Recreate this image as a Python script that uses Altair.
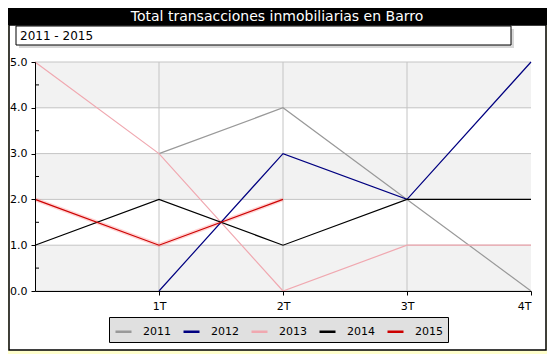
import altair as alt
import pandas as pd

# ---- data ----
quarters = ["", "1T", "2T", "3T", "4T"]
years = ["2011", "2012", "2013", "2014", "2015"]
colors = ["#999999", "#000080", "#f0a8b0", "#000000", "#cc0000"]
v2011 = [None, 3, 4, 2, 0]
v2012 = [None, 0, 3, 2, 5]
v2013 = [5, 3, 0, 1, 1]
v2014 = [1, 2, 1, 2, 2]
v2015 = [2, 1, 2, None, None]
y_ticks = [0, 1, 2, 3, 4, 5]
y_minor = [0.5, 1.5, 2.5, 3.5, 4.5]
band_lo = [0, 2, 4]
band_hi = [1, 3, 5]
x_grid = [1, 2, 3]
title_text = "Total transacciones inmobiliarias en Barro"
subtitle_text = "2011 - 2015"

series = [v2011, v2012, v2013, v2014, v2015]
rows = []
for yr, vals in zip(years, series):
    for i, v in enumerate(vals):
        if v is not None:
            rows.append({"pos": i, "value": v, "year": yr})
df = pd.DataFrame(rows)

W, H = 496, 229
FONT = "DejaVu Sans"
one = pd.DataFrame({"a": [0]})

xs = alt.Scale(domain=[0, 4], nice=False, zero=False)
ys = alt.Scale(domain=[0, 5], nice=False)

def box(x, x2, y, y2, **kw):
    return alt.Chart(one).mark_rect(**kw).encode(
        x=alt.value(x), x2=alt.value(x2), y=alt.value(y), y2=alt.value(y2))

frame = box(-26, 511, -37, 288, fill="white", stroke="black", strokeWidth=1.5)
titlebar = box(-27, 512, -54, -37, fill="black")
title = alt.Chart(one).mark_text(
    text=title_text, font=FONT, fontSize=14, color="white",
    align="center", baseline="middle").encode(x=alt.value(242), y=alt.value(-45))
sub_shadow = box(-16, 479, -33, -14, fill="#d8d8d8")
sub_box = box(-19, 476, -36, -17, fill="white", stroke="black", strokeWidth=1)
sub_text = alt.Chart(one).mark_text(
    text=subtitle_text, font=FONT, fontSize=12, color="black",
    align="left", baseline="middle").encode(x=alt.value(-15), y=alt.value(-26))
leg_shadow = box(78, 412, 259, 281, fill="#909090")

bands = alt.Chart(pd.DataFrame({"lo": band_lo, "hi": band_hi})).mark_rect(
    fill="#f2f2f2").encode(
    y=alt.Y("lo:Q", scale=ys), y2="hi:Q", x=alt.value(0), x2=alt.value(W))

hgrid = alt.Chart(pd.DataFrame({"t": y_ticks})).mark_rule(
    color="#c4c4c4", strokeWidth=1).encode(
    y=alt.Y("t:Q", scale=ys), x=alt.value(0), x2=alt.value(W))
vgrid = alt.Chart(pd.DataFrame({"g": x_grid})).mark_rule(
    color="#c4c4c4", strokeWidth=1).encode(
    x=alt.X("g:Q", scale=xs), y=alt.value(0), y2=alt.value(H))
minor = alt.Chart(pd.DataFrame({"m": y_minor})).mark_rule(
    color="black", strokeWidth=1).encode(
    y=alt.Y("m:Q", scale=ys), x=alt.value(0), x2=alt.value(4))

glow = alt.Chart(df).transform_filter(alt.datum.year == "2015").mark_line(
    color="#ff8080", strokeWidth=4, opacity=0.35).encode(
    x=alt.X("pos:Q", scale=xs), y=alt.Y("value:Q", scale=ys))

label_expr = "[" + ",".join("'%s'" % q for q in quarters) + "][datum.value]"

lines = alt.Chart(df).mark_line(strokeWidth=1.2).encode(
    x=alt.X("pos:Q", scale=xs, axis=alt.Axis(
        values=[1, 2, 3, 4], labelExpr=label_expr, title=None, grid=False,
        tickSize=4, labelPadding=5, labelFont=FONT, labelFontSize=11,
        labelColor="black", domainColor="black", tickColor="black", zindex=1)),
    y=alt.Y("value:Q", scale=ys, axis=alt.Axis(
        values=y_ticks, format=".1f", title=None, grid=False,
        tickSize=4, labelPadding=4, labelFont=FONT, labelFontSize=11,
        labelColor="black", domainColor="black", tickColor="black", zindex=1)),
    color=alt.Color("year:N", scale=alt.Scale(domain=years, range=colors),
                    legend=alt.Legend(
                        orient="none", legendX=74, legendY=255,
                        direction="horizontal", columns=5, title=None,
                        fillColor="#e0e0e0", strokeColor="black", padding=5,
                        symbolType="stroke", symbolSize=256, symbolStrokeWidth=2.5,
                        labelFont=FONT, labelFontSize=11, labelColor="black",
                        labelFontWeight="normal",
                        labelOffset=10, columnPadding=7)),
    detail="year:N",
)

chart = alt.layer(
    frame, titlebar, title, sub_shadow, sub_box, sub_text, leg_shadow,
    bands, hgrid, vgrid, minor, glow, lines
).properties(
    width=W, height=H,
    autosize=alt.AutoSizeParams(type="none"),
    padding={"left": 27, "top": 54, "right": 16, "bottom": 63},
    background="#ffffcc",
).configure_view(stroke=None)

chart.save("out.html", embed_options={"renderer": "svg", "actions": False})
